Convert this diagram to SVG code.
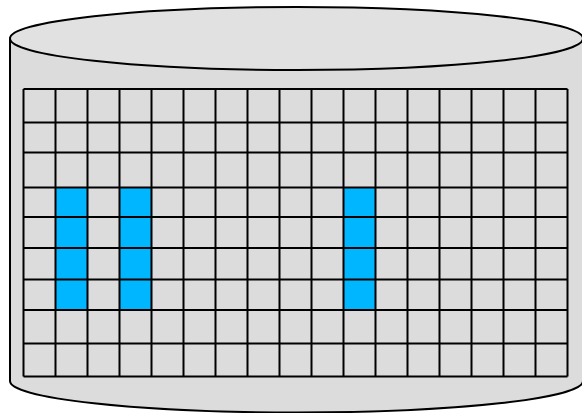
<svg xmlns="http://www.w3.org/2000/svg" width="582" height="413" viewBox="0 0 582 413">
<style>
.out{stroke:#000;stroke-width:2;}
.grid{stroke:#000;stroke-width:2;fill:none;}
.hi{fill:#00b7ff;}
</style>
<rect width="582" height="413" fill="#fff"/>
<g id="cylinder">
<path class="out" fill="#dcdcdc" d="M10,38.5 L10,381 A286.5,31.5 0 0 0 583,381 L583,38.5 Z"/>
<ellipse class="out" fill="#e1e1e1" cx="296.5" cy="38.5" rx="286.5" ry="31.5"/>
</g>
<g id="grid">
<rect x="23.5" y="89" width="544" height="287.5" fill="#dcdcdc"/>
<rect class="hi" x="55.5" y="187.5" width="32" height="122.5"/>
<rect class="hi" x="119.5" y="187.5" width="32" height="122.5"/>
<rect class="hi" x="343.5" y="187.5" width="32" height="122.5"/>
<path class="grid" d="M23.5,89V376.5M55.5,89V376.5M87.5,89V376.5M119.5,89V376.5M151.5,89V376.5M183.5,89V376.5M215.5,89V376.5M247.5,89V376.5M279.5,89V376.5M311.5,89V376.5M343.5,89V376.5M375.5,89V376.5M407.5,89V376.5M439.5,89V376.5M471.5,89V376.5M503.5,89V376.5M535.5,89V376.5M567.5,89V376.5"/>
<path class="grid" d="M23.5,89H567.5M23.5,122.5H567.5M23.5,152.5H567.5M23.5,187.5H567.5M23.5,217H567.5M23.5,248H567.5M23.5,279.5H567.5M23.5,310H567.5M23.5,343.5H567.5M23.5,376.5H567.5"/>
</g>
</svg>
